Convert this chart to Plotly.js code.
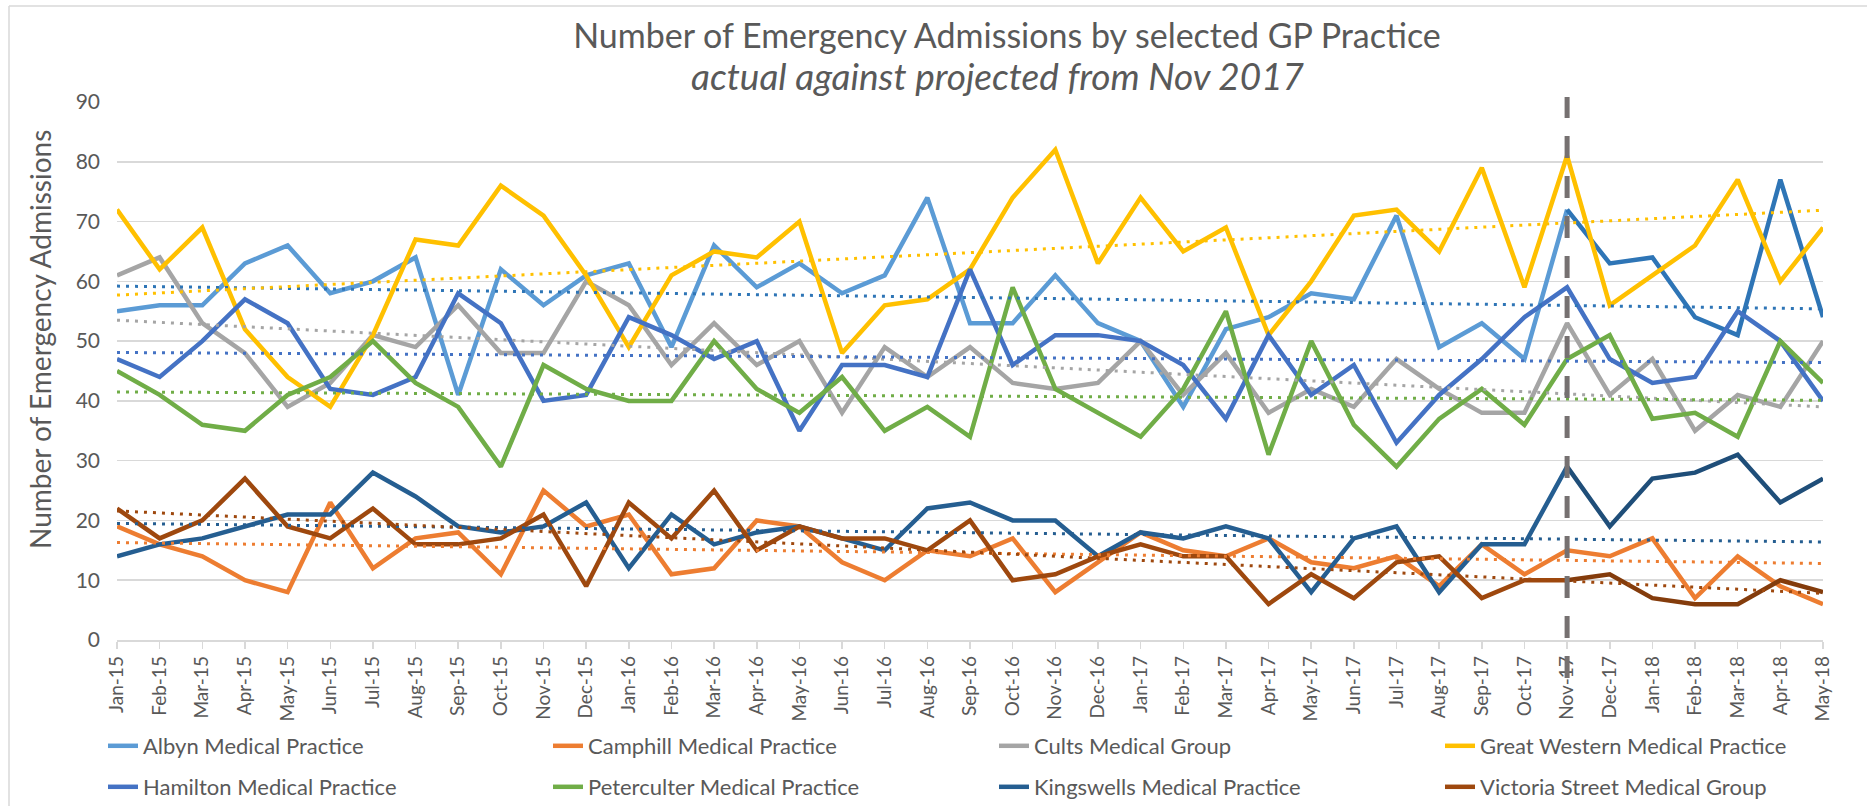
<!DOCTYPE html>
<html>
<head>
<meta charset="utf-8">
<script src="https://cdn.plot.ly/plotly-3.0.1.min.js"></script>
<style>html,body{margin:0;padding:0;background:#fff;}#chart{width:1867px;height:806px;}</style>
</head>
<body>
<div id="chart"></div>
<script>
const months = ['Jan-15','Feb-15','Mar-15','Apr-15','May-15','Jun-15','Jul-15','Aug-15','Sep-15','Oct-15','Nov-15','Dec-15',
  'Jan-16','Feb-16','Mar-16','Apr-16','May-16','Jun-16','Jul-16','Aug-16','Sep-16','Oct-16','Nov-16','Dec-16',
  'Jan-17','Feb-17','Mar-17','Apr-17','May-17','Jun-17','Jul-17','Aug-17','Sep-17','Oct-17','Nov-17','Dec-17',
  'Jan-18','Feb-18','Mar-18','Apr-18','May-18'];

const practices = ['Albyn Medical Practice','Camphill Medical Practice','Cults Medical Group','Great Western Medical Practice',
  'Hamilton Medical Practice','Peterculter Medical Practice','Kingswells Medical Practice','Victoria Street Medical Group'];

const albyn        = [55,56,56,63,66,58,60,64,41,62,56,61,63,49,66,59,63,58,61,74,53,53,61,53,50,39,52,54,58,57,71,49,53,47,72,63,64,54,51,77,54];
const camphill     = [19,16,14,10,8,23,12,17,18,11,25,19,21,11,12,20,19,13,10,15,14,17,8,13,18,15,14,17,13,12,14,9,16,11,15,14,17,7,14,9,6];
const cults        = [61,64,53,48,39,43,51,49,56,48,48,60,56,46,53,46,50,38,49,44,49,43,42,43,50,41,48,38,42,39,47,42,38,38,53,41,47,35,41,39,50];
const greatWestern = [72,62,69,52,44,39,51,67,66,76,71,61,49,61,65,64,70,48,56,57,62,74,82,63,74,65,69,51,60,71,72,65,79,59,81,56,61,66,77,60,69];
const hamilton     = [47,44,50,57,53,42,41,44,58,53,40,41,54,51,47,50,35,46,46,44,62,46,51,51,50,46,37,51,41,46,33,41,47,54,59,47,43,44,55,50,40];
const peterculter  = [45,41,36,35,41,44,50,43,39,29,46,42,40,40,50,42,38,44,35,39,34,59,42,38,34,42,55,31,50,36,29,37,42,36,47,51,37,38,34,50,43];
const kingswells   = [14,16,17,19,21,21,28,24,19,18,19,23,12,21,16,18,19,17,15,22,23,20,20,14,18,17,19,17,8,17,19,8,16,16,29,19,27,28,31,23,27];
const victoria     = [22,17,20,27,19,17,22,16,16,17,21,9,23,17,25,15,19,17,17,15,20,10,11,14,16,14,14,6,11,7,13,14,7,10,10,11,7,6,6,10,8];

// trend (projection) line values at Jan-15 and May-18, per practice (same order as practices)
const trendStart = [59.2,16.3,53.5,57.7,48.1,41.5,19.5,21.6];
const trendEnd   = [55.4,12.8,39.0,71.9,46.4,40.1,16.4,7.8];

const splitMonth = 'Nov-17';

const series = [albyn,camphill,cults,greatWestern,hamilton,peterculter,kingswells,victoria];
const colors = ['#5B9BD5','#ED7D31','#A5A5A5','#FFC000','#4472C4','#70AD47','#255E91','#9E480E'];
const trendColors = ['#2E75B6','#ED7D31','#A5A5A5','#FFC000','#4472C4','#70AD47','#255E91','#9E480E'];
const postColors = {0:'#2E75B6',6:'#1F4E79',7:'#843C0C'};

const FONT = 'Lato, "Open Sans", sans-serif';
const TXT = '#595959';
const split = months.indexOf(splitMonth);

// legend placement: one legend per entry (4 columns x 2 rows), container pixels
const W = 1867, H = 806;
const legendTextX = [143, 588, 1034, 1480];
const legendRowY = [746, 787];
const PL = 117, PW = 1706, PB = 640, PH = 538;

const traces = [];
series.forEach(function(vals, i){
  const hasPost = postColors.hasOwnProperty(i);
  const xs = hasPost ? months.slice(0, split+1) : months;
  const ys = hasPost ? vals.slice(0, split+1) : vals;
  traces.push({
    type:'scatter', mode:'lines', name: practices[i], x: xs, y: ys,
    line:{color: colors[i], width:4.5},
    legend: i === 0 ? 'legend' : 'legend' + (i+1), showlegend: true
  });
  if (hasPost) {
    traces.push({
      type:'scatter', mode:'lines', name: practices[i], x: months.slice(split), y: vals.slice(split),
      line:{color: postColors[i], width:4.5}, showlegend:false
    });
  }
});
series.forEach(function(vals, i){
  traces.push({
    type:'scatter', mode:'lines', name: practices[i] + ' trend',
    x:[months[0], months[months.length-1]], y:[trendStart[i], trendEnd[i]],
    line:{color: trendColors[i], width:3, dash:'3px,6px'}, showlegend:false
  });
});

const layout = {
  width:W, height:H,
  margin:{l:PL, r:W-PL-PW, t:102, b:H-PB},
  paper_bgcolor:'#ffffff', plot_bgcolor:'#ffffff',
  font:{family:FONT, color:TXT, size:20},
  showlegend:true,
  title:{text:'Number of Emergency Admissions by selected GP Practice', x:1007/W, xanchor:'center',
         y:1-36/H, yanchor:'middle', font:{family:FONT, size:34, color:TXT}},
  xaxis:{type:'category', categoryorder:'array', categoryarray: months, range:[0, months.length-1],
         tickangle:-90, ticks:'outside', ticklen:7, tickcolor:'#D9D9D9', tickwidth:1.5,
         showline:true, linecolor:'#D9D9D9', linewidth:1.5, showgrid:false, zeroline:false, automargin:false,
         tickfont:{family:FONT, size:19, color:TXT}, fixedrange:true},
  yaxis:{range:[0,90], dtick:10, tick0:0, showgrid:true, gridcolor:'#D9D9D9', gridwidth:1.5,
         zeroline:false, showline:false, ticks:'', ticklabelstandoff:16, automargin:false,
         tickfont:{family:FONT, size:21, color:TXT}, fixedrange:true},
  annotations:[
    {text:'<i>actual against projected from Nov 2017</i>', xref:'paper', yref:'paper',
     x:(998-PL)/PW, y:(PB-75)/PH, xanchor:'center', yanchor:'middle', showarrow:false,
     font:{family:FONT, size:37, color:TXT}},
    {text:'Number of Emergency Admissions', xref:'paper', yref:'paper', textangle:-90,
     x:(40-PL)/PW, y:(PB-340)/PH, xanchor:'center', yanchor:'middle', showarrow:false,
     font:{family:FONT, size:28, color:TXT}}
  ],
  shapes:[
    {type:'line', xref:'x', yref:'paper', x0:split, x1:split, y0:(PB-678)/PH, y1:(PB-97)/PH,
     line:{color:'#767171', width:5, dash:'22px,18px'}},
    {type:'line', xref:'paper', yref:'paper', x0:(9-PL)/PW, x1:(9-PL)/PW, y0:(PB-H)/PH, y1:(PB-6)/PH,
     line:{color:'#D9D9D9', width:1.5}},
    {type:'line', xref:'paper', yref:'paper', x0:(9-PL)/PW, x1:(W-PL)/PW, y0:(PB-6)/PH, y1:(PB-6)/PH,
     line:{color:'#D9D9D9', width:1.5}}
  ]
};

for (let i = 0; i < 8; i++) {
  const key = i === 0 ? 'legend' : 'legend' + (i+1);
  const col = i % 4, row = Math.floor(i / 4);
  layout[key] = {
    orientation:'h', xref:'container', yref:'container',
    x:(legendTextX[col] - 40)/W, xanchor:'left',
    y:1 - legendRowY[row]/H, yanchor:'middle',
    font:{family:FONT, size:22, color:TXT}, bgcolor:'rgba(0,0,0,0)', borderwidth:0
  };
}

Plotly.newPlot('chart', traces, layout, {displayModeBar:false, staticPlot:true});
</script>
</body>
</html>
